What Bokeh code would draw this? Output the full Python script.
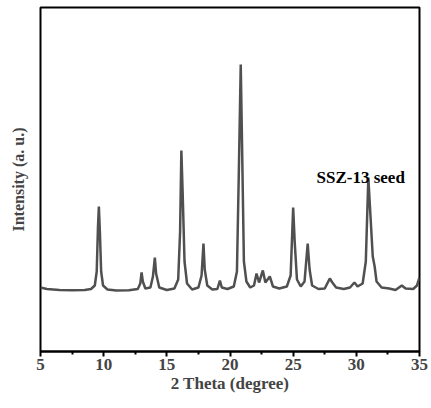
from bokeh.plotting import figure
from bokeh.models import Range1d, Label, FixedTicker
from bokeh.embed import file_html
from bokeh.resources import INLINE

two_theta = [5.0, 5.5, 6.5, 7.5, 8.5, 9.0, 9.3, 9.45, 9.55, 9.62, 9.7, 9.8, 9.95, 10.3, 11.0, 12.0,
             12.7, 12.9, 13.0, 13.1, 13.3, 13.7, 13.9, 14.05, 14.15, 14.4, 15.0, 15.6, 15.9, 16.05,
             16.15, 16.25, 16.4, 16.6, 17.0, 17.5, 17.75, 17.9, 18.0, 18.2, 18.6, 19.0, 19.2, 19.35,
             19.8, 20.3, 20.55, 20.7, 20.85, 20.95, 21.1, 21.3, 21.6, 21.9, 22.1, 22.3, 22.6, 22.8,
             23.15, 23.4, 23.9, 24.5, 24.8, 25.0, 25.12, 25.3, 25.6, 25.9, 26.15, 26.3, 26.5, 27.0,
             27.5, 27.9, 28.1, 28.4, 29.0, 29.5, 29.85, 30.1, 30.5, 30.75, 30.95, 31.1, 31.3, 31.45,
             31.6, 32.0, 32.6, 33.1, 33.6, 33.9, 34.5, 34.8, 35.0]
intensity = [640, 625, 615, 612, 615, 625, 660, 800, 1250, 1450, 1200, 800, 660, 620, 610, 612,
             625, 680, 790, 700, 630, 640, 750, 940, 780, 640, 615, 630, 720, 1200,
             2010, 1600, 900, 680, 620, 640, 760, 1080, 820, 660, 620, 625, 710, 640,
             625, 650, 800, 1800, 2870, 2100, 900, 700, 640, 660, 780, 690, 810, 690,
             750, 650, 630, 650, 760, 1440, 1100, 720, 650, 700, 1080, 820, 660, 625,
             630, 730, 690, 640, 625, 640, 690, 650, 680, 900, 1740, 1400, 950, 850,
             700, 640, 630, 615, 660, 630, 625, 660, 740]
x_ticks = [5, 10, 15, 20, 25, 30, 35]
x_minor_ticks = [7.5, 12.5, 17.5, 22.5, 27.5, 32.5]
sample_label = "SSZ-13 seed"
x_title = "2 Theta (degree)"
y_title = "Intensity (a. u.)"

FONT = "Liberation Serif"

p = figure(width=431, height=408, output_backend="svg", toolbar_location=None,
           x_range=Range1d(5, 35), y_range=Range1d(0, 3440),
           min_border_left=40, min_border_right=12, min_border_top=7, min_border_bottom=57)

p.line(two_theta, intensity, line_color="#505050", line_width=2.5)

p.xgrid.visible = False
p.ygrid.visible = False
p.outline_line_color = "black"
p.outline_line_width = 2

xa = p.xaxis[0]
xa.ticker = FixedTicker(ticks=x_ticks, minor_ticks=x_minor_ticks)
xa.axis_label = x_title
xa.axis_label_text_font = FONT
xa.axis_label_text_font_style = "bold"
xa.axis_label_text_font_size = "17px"
xa.axis_label_standoff = 1
xa.major_label_text_font = FONT
xa.major_label_text_font_style = "bold"
xa.major_label_text_font_size = "17px"
xa.major_label_standoff = 2
xa.axis_line_width = 2
xa.major_tick_line_width = 2
xa.minor_tick_line_width = 2
xa.major_tick_out = 5
xa.major_tick_in = 0
xa.minor_tick_out = 3
xa.minor_tick_in = 0

ya = p.yaxis[0]
ya.ticker = FixedTicker(ticks=[], minor_ticks=[])
ya.axis_label = y_title
ya.axis_label_text_font = FONT
ya.axis_label_text_font_style = "bold"
ya.axis_label_text_font_size = "16px"
ya.axis_label_standoff = 14
ya.major_tick_line_color = None
ya.minor_tick_line_color = None
ya.axis_line_color = None

p.add_layout(Label(x=26.85, y=1740, text=sample_label, text_font=FONT, text_font_style="bold",
                   text_font_size="17px", text_color="black", text_baseline="alphabetic"))

open("out.html", "w").write(file_html(p, INLINE))
